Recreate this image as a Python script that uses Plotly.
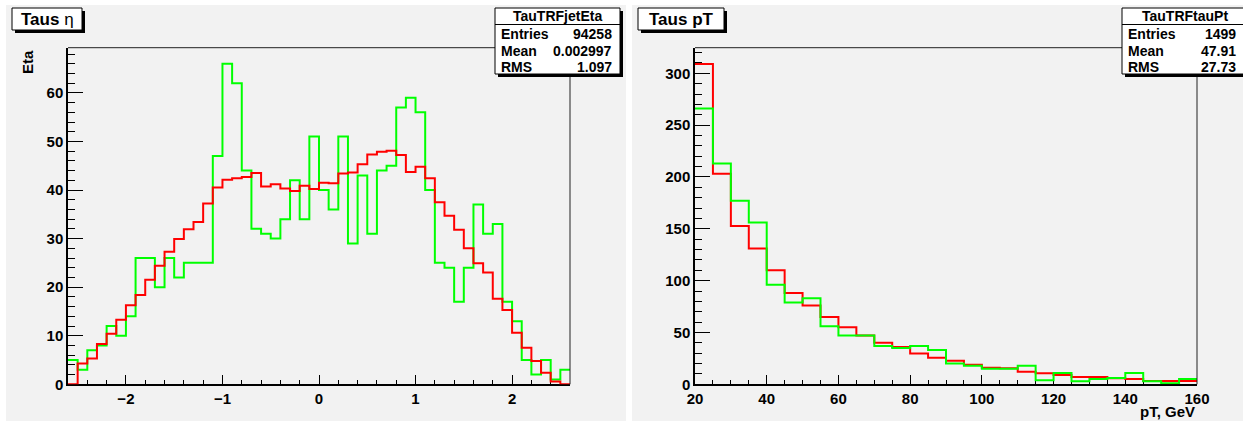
import numpy as np
import plotly.graph_objects as go

W, H = 1243, 424

# ---------------- data ----------------
eta_lo, eta_hi, eta_nbins = -2.6, 2.6, 52
eta_green = [5, 3, 7, 8, 12, 10, 14, 26, 26, 20, 26, 22, 25, 25, 25, 47, 66, 62, 44, 32, 31, 30, 34, 42, 34, 51,
             40, 36, 51, 29, 43, 31, 44, 45, 57, 59, 56, 40, 25, 24, 17, 24, 37, 31, 33, 17, 13, 5, 2, 5, 1, 3]
eta_red = [0, 4.3, 5.3, 8.3, 10.4, 13.3, 16.3, 18.4, 21.5, 24.4, 27.3, 29.9, 31.9, 33.4, 37.2, 40.5, 42.1, 42.4,
           42.7, 43.5, 40.7, 41.2, 40.3, 39.8, 40.9, 40.2,
           41.5, 41.4, 43.4, 43.6, 45.3, 47.3, 47.9, 48.1, 47.2, 43.7, 44.8, 42.4, 37.5, 34.7, 31.8, 28.0, 24.9,
           23.0, 17.6, 15.3, 10.6, 7.5, 4.8, 2.4, 0.6, 0]

pt_lo, pt_hi, pt_nbins = 20, 160, 28
pt_red = [309, 203, 152.7, 131, 110, 88, 76, 65, 55, 47, 40, 36, 29.6, 25.6, 22.8, 18.9, 16, 15.4, 12.2, 10.6,
          9, 7, 7, 5.8, 5.1, 3.2, 3.2, 3.2]
pt_green = [266, 213, 177, 156, 96, 79, 83, 56, 47, 47, 37, 35, 37, 33, 20, 18, 15, 15, 18, 4, 11, 3, 5, 6, 11,
            3, 1, 5]

eta_stats = ("TauTRFjetEta", [("Entries", "94258"), ("Mean", "0.002997"), ("RMS", "1.097")])
pt_stats = ("TauTRFtauPt", [("Entries", "1499"), ("Mean", "47.91"), ("RMS", "27.73")])

# ---------------- helpers ----------------
FONT = "Liberation Sans"
GREEN, RED = "#00ff00", "#ff0000"
PAD = "#f2f2f2"


def px(x):
    return x / W


def py(y):
    return 1 - y / H


def step(lo, hi, n, vals):
    edges = np.linspace(lo, hi, n + 1)
    return edges, list(vals) + [vals[-1]]


fig = go.Figure()

e, g = step(eta_lo, eta_hi, eta_nbins, eta_green)
fig.add_trace(go.Scatter(x=e, y=g, mode="lines", line=dict(color=GREEN, width=2, shape="hv"),
                         xaxis="x", yaxis="y", showlegend=False, hoverinfo="skip"))
e, r = step(eta_lo, eta_hi, eta_nbins, eta_red)
fig.add_trace(go.Scatter(x=e, y=r, mode="lines", line=dict(color=RED, width=2, shape="hv"),
                         xaxis="x", yaxis="y", showlegend=False, hoverinfo="skip"))

e, r = step(pt_lo, pt_hi, pt_nbins, pt_red)
fig.add_trace(go.Scatter(x=e, y=r, mode="lines", line=dict(color=RED, width=2, shape="hv"),
                         xaxis="x2", yaxis="y2", showlegend=False, hoverinfo="skip"))
e, g = step(pt_lo, pt_hi, pt_nbins, pt_green)
fig.add_trace(go.Scatter(x=e, y=g, mode="lines", line=dict(color=GREEN, width=2, shape="hv"),
                         xaxis="x2", yaxis="y2", showlegend=False, hoverinfo="skip"))

tickfont = dict(family=FONT, size=15, color="black", weight="bold")


def xax(domain, rng, dtick, mdtick, anchor):
    return dict(domain=domain, range=rng, anchor=anchor, dtick=dtick, tick0=0, ticks="inside", ticklen=10,
                tickwidth=1, tickcolor="black", showline=True, linecolor="black", linewidth=1.5,
                showgrid=False, zeroline=False, tickfont=tickfont, layer="below traces", automargin=False,
                minor=dict(dtick=mdtick, tick0=0, ticks="inside", ticklen=5, tickwidth=1, tickcolor="black",
                           showgrid=False), fixedrange=True)


def yax(domain, rng, dtick, mdtick, anchor):
    return dict(domain=domain, range=rng, anchor=anchor, dtick=dtick, tick0=0, ticks="inside", ticklen=15,
                tickwidth=1, tickcolor="black", showline=True, linecolor="black", linewidth=1.5,
                showgrid=False, zeroline=False, tickfont=tickfont, layer="below traces", automargin=False,
                minor=dict(dtick=mdtick, tick0=0, ticks="inside", ticklen=7, tickwidth=1, tickcolor="black",
                           showgrid=False), fixedrange=True)


ydom = [py(384.3), py(47.7)]
fig.update_layout(
    width=W, height=H, margin=dict(l=0, r=0, t=0, b=0, pad=0),
    paper_bgcolor="white", plot_bgcolor=PAD, showlegend=False,
    xaxis=xax([px(68), px(570)], [eta_lo, eta_hi], 1, 0.2, "y"),
    yaxis=yax(ydom, [0, 69.3], 10, 2, "x"),
    xaxis2=xax([px(695), px(1197)], [pt_lo, pt_hi], 20, 5, "y2"),
    yaxis2=yax(ydom, [0, 324.7], 50, 10, "x2"),
)

shapes = []
annots = []


def rect(x0, y0, x1, y1, fill, line=None, lw=0, layer="above"):
    shapes.append(dict(type="rect", xref="paper", yref="paper", x0=px(x0), x1=px(x1), y0=py(y1), y1=py(y0),
                       fillcolor=fill, line=dict(color=line or fill, width=lw), layer=layer))


def line(x0, y0, x1, y1, color="#222", lw=1):
    shapes.append(dict(type="line", xref="paper", yref="paper", x0=px(x0), x1=px(x1), y0=py(y0), y1=py(y1),
                       line=dict(color=color, width=lw), layer="above"))


def text(x, y, s, size, xanchor="center", yanchor="middle", weight="bold", angle=0):
    annots.append(dict(xref="paper", yref="paper", x=px(x), y=py(y), text=s, showarrow=False,
                       xanchor=xanchor, yanchor=yanchor, textangle=angle,
                       font=dict(family=FONT, size=size, color="black", weight=weight)))


# pads
rect(6, 5, 626, 421, PAD, layer="below")
rect(632, 5, 1243, 421, PAD, layer="below")

# frame top/right borders
line(68, 47.7, 570, 47.7)
line(570, 47.7, 570, 384.3)
line(695, 47.7, 1197, 47.7)
line(1197, 47.7, 1197, 384.3)


def titlebox(x0, x1, label):
    rect(x0 + 3, 11, x1 + 3, 33, "black")
    rect(x0, 8, x1, 30, "white", "black", 1)
    text((x0 + x1) / 2, 19.5, label, 17, weight="normal")


titlebox(12, 82, "<b>Taus</b> η")
titlebox(638, 724, "<b>Taus pT</b>")


def statsbox(x0, x1, tx, lx, vx, stats):
    name, rows = stats
    rect(x0 + 3, 11, x1 + 3, 77, "black")
    rect(x0, 8, x1, 74, "white", "black", 1)
    line(x0, 24.5, x1, 24.5, "black", 1)
    text(tx, 16.5, name, 14)
    for (lab, val), yy in zip(rows, [34.3, 51, 67.3]):
        text(lx, yy, lab, 14, xanchor="left")
        text(vx, yy, val, 14, xanchor="right")


statsbox(495, 620, 557.5, 499, 614, eta_stats)
statsbox(1122, 1250, 1185, 1126, 1238, pt_stats)

# axis titles
text(28, 48, "Eta", 15, yanchor="top", angle=-90)
text(1197, 411, "pT, GeV", 15, xanchor="right")

fig.update_layout(shapes=shapes, annotations=annots)
fig.write_html("out.html")
